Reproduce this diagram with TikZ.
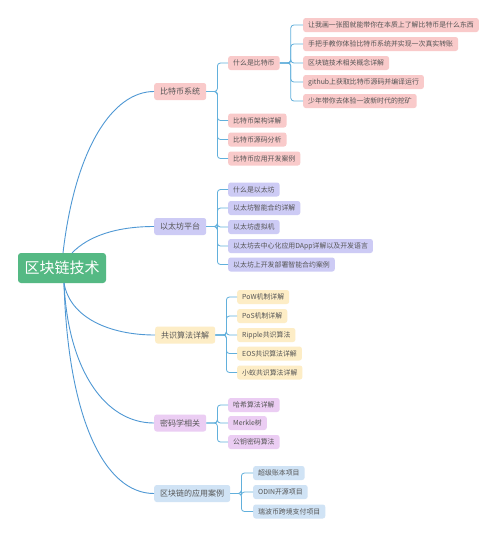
\documentclass[tikz,border=0pt]{standalone}
\usepackage{fontspec}
\setmainfont{Noto Sans CJK SC}
\definecolor{pinkF}{HTML}{F9CACA}
\definecolor{lavF}{HTML}{CDCBF5}
\definecolor{yelF}{HTML}{FDEDC6}
\definecolor{purF}{HTML}{EBCDF3}
\definecolor{bluF}{HTML}{D0E3F5}
\definecolor{rootF}{HTML}{55B984}
\definecolor{txt}{HTML}{555555}
\definecolor{rootln}{HTML}{4F98D4}
\definecolor{brln}{HTML}{62B0DC}
\begin{document}
\begin{tikzpicture}[x=1pt,y=-1pt,
  rootbox/.style={rounded corners=3, fill=rootF, text=white, minimum width=88, minimum height=30, inner sep=0, font=\fontsize{15}{17}\selectfont},
  lone/.style={rounded corners=2.5, minimum height=17, inner xsep=6, inner ysep=0, font=\fontsize{8}{9}\selectfont, text=txt, anchor=west},
  ltwo/.style={rounded corners=2.5, minimum height=14, inner xsep=5, inner ysep=0, font=\fontsize{6.9}{8}\selectfont, text=txt, anchor=west},
  rootline/.style={draw=rootln, line width=0.9},
  brline/.style={draw=brln, line width=0.8, rounded corners=3}]
\useasboundingbox (0,0) rectangle (500,539);
\fill[white] (0,0) rectangle (500,539);

\node[rootbox] (r) at (62,268) {区块链技术};

% Bitcoin
\node[lone,fill=pinkF] (b) at (154,91.5) {比特币系统};
\node[ltwo,fill=pinkF] (b1) at (228,63) {什么是比特币};
\node[ltwo,fill=pinkF] (b2) at (228,120.5) {比特币架构详解};
\node[ltwo,fill=pinkF] (b3) at (228,139.5) {比特币源码分析};
\node[ltwo,fill=pinkF] (b4) at (228,158.5) {比特币应用开发案例};
\node[ltwo,fill=pinkF] (b11) at (303,25) {让我画一张图就能带你在本质上了解比特币是什么东西};
\node[ltwo,fill=pinkF] (b12) at (303,44) {手把手教你体验比特币系统并实现一次真实转账};
\node[ltwo,fill=pinkF] (b13) at (303,63) {区块链技术相关概念详解};
\node[ltwo,fill=pinkF] (b14) at (303,82) {github上获取比特币源码并编译运行};
\node[ltwo,fill=pinkF] (b15) at (303,101) {少年带你去体验一波新时代的挖矿};

% Ethereum
\node[lone,fill=lavF] (e) at (154,226.5) {以太坊平台};
\node[ltwo,fill=lavF] (e1) at (228,189.5) {什么是以太坊};
\node[ltwo,fill=lavF] (e2) at (228,208) {以太坊智能合约详解};
\node[ltwo,fill=lavF] (e3) at (228,227) {以太坊虚拟机};
\node[ltwo,fill=lavF] (e4) at (228,246) {以太坊去中心化应用DApp详解以及开发语言};
\node[ltwo,fill=lavF] (e5) at (228,264.5) {以太坊上开发部署智能合约案例};

% Consensus
\node[lone,fill=yelF] (c) at (155,335) {共识算法详解};
\node[ltwo,fill=yelF] (c1) at (237,297) {PoW机制详解};
\node[ltwo,fill=yelF] (c2) at (237,316) {PoS机制详解};
\node[ltwo,fill=yelF] (c3) at (237,335) {Ripple共识算法};
\node[ltwo,fill=yelF] (c4) at (237,353.5) {EOS共识算法详解};
\node[ltwo,fill=yelF] (c5) at (237,372.5) {小蚁共识算法详解};

% Crypto
\node[lone,fill=purF] (m) at (154,423) {密码学相关};
\node[ltwo,fill=purF] (m1) at (228,405) {哈希算法详解};
\node[ltwo,fill=purF] (m2) at (228,423) {Merkle树};
\node[ltwo,fill=purF] (m3) at (228,442) {公钥密码算法};

% Applications
\node[lone,fill=bluF] (a) at (154,493.5) {区块链的应用案例};
\node[ltwo,fill=bluF] (a1) at (253,473) {超级账本项目};
\node[ltwo,fill=bluF] (a2) at (253,492) {ODIN开源项目};
\node[ltwo,fill=bluF] (a3) at (253,511.5) {瑞波币跨境支付项目};

% root connectors
\coordinate (rb) at (63,253);
\coordinate (re) at (72,253);
\coordinate (rl) at (64,283);
\draw[rootline] (rb) .. controls (75.2,147.7) and (113,91.5) .. (b.west);
\draw[rootline] (re) .. controls (88.4,235.8) and (117.1,226.5) .. (e.west);
\draw[rootline] (rl) .. controls (70,318) and (110,335) .. (c.west);
\draw[rootline] (rl) .. controls (68,370) and (105,423) .. (m.west);
\draw[rootline] (rl) .. controls (68,420) and (105,493.5) .. (a.west);

% branch connectors
\foreach \p/\cs in {b/{b1,b2,b3,b4}, b1/{b11,b12,b13,b14,b15}, e/{e1,e2,e3,e4,e5}, c/{c1,c2,c3,c4,c5}, m/{m1,m2,m3}, a/{a1,a2,a3}}{
  \foreach \ch in \cs {
    \draw[brline] (\p.east) -- ++(11,0) |- (\ch.west);
  }
}
\end{tikzpicture}
\end{document}
